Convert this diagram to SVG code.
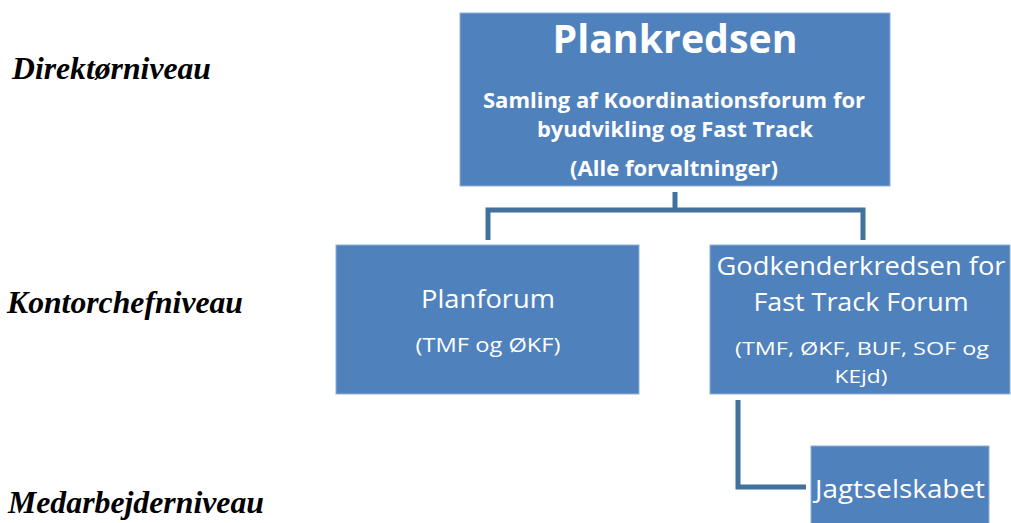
<svg xmlns="http://www.w3.org/2000/svg" width="1011" height="523" viewBox="0 0 1011 523">
<style>
.box{fill:#4F81BD;stroke:#8EB0DA;stroke-width:1}
.conn{fill:none;stroke:#41719C;stroke-width:5;stroke-linejoin:miter}
.t{fill:#FFFFFF;font-family:"Open Sans","Liberation Sans",sans-serif;text-anchor:middle}
.b{font-weight:bold}
.lvl{fill:#000000;font-family:"Liberation Serif","Times New Roman",serif;font-weight:bold;font-style:italic;font-size:32px}
</style>
<rect width="1011" height="523" fill="#FFFFFF"/>
<g id="levels">
<text class="lvl" x="12" y="79" textLength="199" lengthAdjust="spacingAndGlyphs">Direktørniveau</text>
<text class="lvl" x="7" y="313" textLength="236" lengthAdjust="spacingAndGlyphs">Kontorchefniveau</text>
<text class="lvl" x="8" y="513" textLength="256" lengthAdjust="spacingAndGlyphs">Medarbejderniveau</text>
</g>
<g id="connectors">
<polyline class="conn" points="675,192 675,210"/>
<polyline class="conn" points="488,240 488,210 863,210 863,240"/>
<polyline class="conn" points="738,400 738,487 806,487"/>
</g>
<g id="plankredsen">
<rect class="box" x="460" y="13" width="430" height="173"/>
<text class="t b" x="675" y="53" font-size="39" textLength="245" lengthAdjust="spacingAndGlyphs">Plankredsen</text>
<text class="t b" x="674" y="108" font-size="21" textLength="382" lengthAdjust="spacingAndGlyphs">Samling af Koordinationsforum for</text>
<text class="t b" x="675" y="137" font-size="21" textLength="276" lengthAdjust="spacingAndGlyphs">byudvikling og Fast Track</text>
<text class="t b" x="674" y="176" font-size="21" textLength="208" lengthAdjust="spacingAndGlyphs">(Alle forvaltninger)</text>
</g>
<g id="planforum">
<rect class="box" x="336" y="245" width="303" height="149"/>
<text class="t" x="488" y="308" font-size="26" textLength="134" lengthAdjust="spacingAndGlyphs">Planforum</text>
<text class="t" x="488" y="352" font-size="20" textLength="145" lengthAdjust="spacingAndGlyphs">(TMF og ØKF)</text>
</g>
<g id="godkenderkredsen">
<rect class="box" x="710" y="245" width="300" height="149"/>
<text class="t" x="861" y="275" font-size="25" textLength="289" lengthAdjust="spacingAndGlyphs">Godkenderkredsen for</text>
<text class="t" x="861" y="311" font-size="25" textLength="215" lengthAdjust="spacingAndGlyphs">Fast Track Forum</text>
<text class="t" x="862" y="355" font-size="19" textLength="254" lengthAdjust="spacingAndGlyphs">(TMF, ØKF, BUF, SOF og</text>
<text class="t" x="861" y="383" font-size="19" textLength="53" lengthAdjust="spacingAndGlyphs">KEjd)</text>
</g>
<g id="jagtselskabet">
<rect class="box" x="811" y="446" width="178" height="90"/>
<text class="t" x="900" y="498" font-size="25" textLength="170" lengthAdjust="spacingAndGlyphs">Jagtselskabet</text>
</g>
</svg>
